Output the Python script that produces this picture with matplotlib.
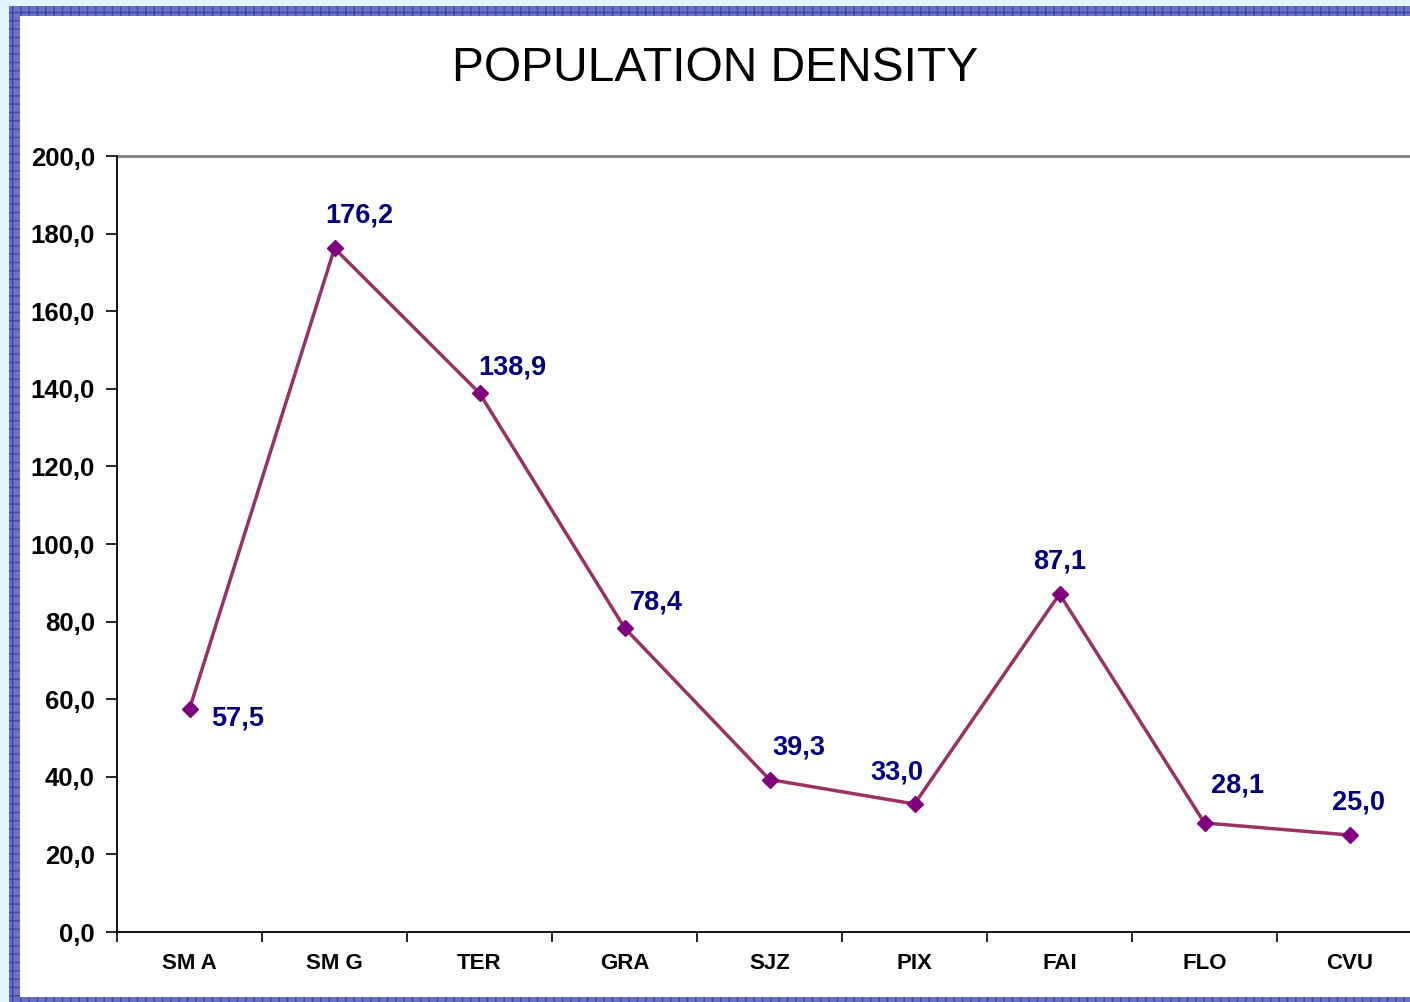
import matplotlib.pyplot as plt
from matplotlib.patches import Rectangle

# data
regions = ["SM A", "SM G", "TER", "GRA", "SJZ", "PIX", "FAI", "FLO", "CVU"]
density = [57.5, 176.2, 138.9, 78.4, 39.3, 33.0, 87.1, 28.1, 25.0]
# label offsets in pixels (dx, dy), chosen to mimic the original placement
label_offsets = [(48, -10), (25, 33), (33, 26), (32, 25), (29, 32), (-18, 31), (0, 33), (33, 37), (9, 33)]

plt.rcParams['font.family'] = ['Liberation Sans', 'DejaVu Sans']

W, H = 1410, 1002
fig = plt.figure(figsize=(W / 100, H / 100), dpi=100, facecolor='#E3F3FF')

# patterned frame around the sheet
fig.patches.append(Rectangle((9 / W, 0), 1, (H - 6) / H, transform=fig.transFigure,
                             facecolor='#6A72C4', edgecolor='#3F48A8', hatch='++', linewidth=0, zorder=-2))
fig.patches.append(Rectangle((20 / W, 5 / H), 1, (997 - 16) / H, transform=fig.transFigure,
                             facecolor='white', edgecolor='none', zorder=-1))

ax = fig.add_axes([117 / W, 1 - 932 / H, (1422 - 117) / W, (932 - 156) / H])
ax.set_facecolor('none')

x = range(len(regions))
ax.plot(x, density, color='#993366', linewidth=2.5, zorder=3)
ax.plot(x, density, linestyle='none', marker='D', markersize=8.5,
        color='#800080', zorder=4)

for i, v in enumerate(density):
    dx, dy = label_offsets[i]
    ax.annotate(f"{v:.1f}".replace('.', ','), (i, v), xytext=(dx, dy), textcoords='offset pixels',
                ha='center', va='center', fontsize=19.5, fontweight='bold', color='#000080')

ax.set_xlim(-0.5, len(regions) - 0.5)
ax.set_ylim(0, 200)
ax.set_yticks(range(0, 201, 20))
ax.set_yticklabels([f"{t},0" for t in range(0, 201, 20)], fontsize=18.5, fontweight='bold')
ax.set_xticks([i + 0.5 for i in range(-1, len(regions))], minor=False)
ax.set_xticklabels([])
ax.set_xticks(list(x), minor=True)
ax.set_xticklabels(regions, minor=True, fontsize=16, fontweight='bold')
ax.tick_params(axis='x', which='minor', length=0, pad=15)
ax.tick_params(axis='x', which='major', direction='out', length=7, width=1.2)
ax.tick_params(axis='y', direction='out', length=8, width=1.2, pad=8)

ax.axhline(200, color='#808080', linewidth=2, zorder=1, clip_on=False)
for s in ['top', 'right']:
    ax.spines[s].set_visible(False)
for s in ['left', 'bottom']:
    ax.spines[s].set_linewidth(1.3)

fig.text(715 / W, 1 - 81 / H, "POPULATION DENSITY", ha='center', va='baseline', fontsize=34.6)

fig.savefig('out.png', dpi=100, facecolor=fig.get_facecolor())
